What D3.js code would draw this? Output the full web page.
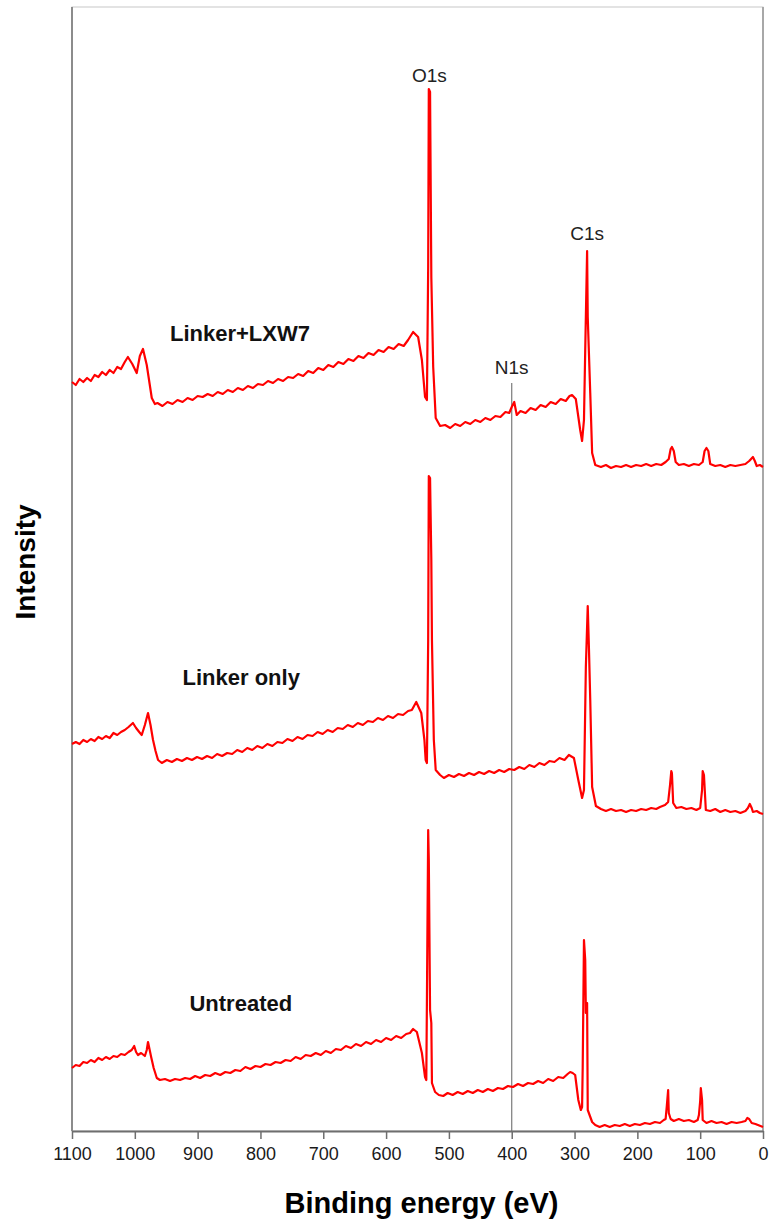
<!DOCTYPE html>
<html>
<head>
<meta charset="utf-8">
<script src="https://cdn.jsdelivr.net/npm/d3@7"></script>
<style>
  html, body { margin: 0; padding: 0; background: #fff; }
  svg { display: block; font-family: "Liberation Sans", Arial, sans-serif; }
</style>
</head>
<body>
<svg id="xps" width="773" height="1229"></svg>
<script>
// survey spectra, [binding energy (eV), intensity (a.u., offset per sample)]
const linkerLxw7 = [
  [1100,74.9],[1094,74.6],[1088,75.2],[1082,74.9],[1076,75.3],[1070,75.0],[1064,75.6],[1058,75.4],
  [1052,75.9],[1046,75.6],[1040,76.1],[1034,75.8],[1028,76.4],[1022,76.2],[1016,76.9],[1011,77.4],
  [1004,76.7],[997,75.8],[992,77.5],[987,78.2],[981,76.6],[973,73.3],[968,72.7],[964,72.8],
  [956,72.5],[948,72.9],[940,72.7],[932,73.1],[924,72.9],[916,73.3],[908,73.1],[900,73.5],
  [892,73.4],[884,73.7],[876,73.5],[868,73.9],[860,73.7],[852,74.1],[844,73.9],[836,74.3],
  [828,74.1],[820,74.5],[812,74.3],[804,74.7],[796,74.6],[788,75.0],[780,74.8],[772,75.2],
  [764,75.0],[756,75.4],[748,75.3],[740,75.7],[732,75.5],[724,76.0],[716,75.8],[708,76.3],
  [700,76.1],[692,76.6],[684,76.4],[676,76.9],[668,76.7],[660,77.2],[652,77.0],[644,77.5],
  [636,77.3],[628,77.8],[620,77.6],[612,78.1],[604,77.9],[596,78.4],[588,78.2],[580,78.7],
  [572,78.5],[565,79.1],[557,79.9],[549,79.4],[543,77.1],[538,73.4],[535,73.1],[533,86.4],
  [532,104.2],[530,103.9],[528,85.4],[525,76.4],[521,71.3],[514,70.5],[506,70.6],[498,70.3],
  [490,70.7],[482,70.5],[474,70.9],[466,70.7],[458,71.1],[450,70.9],[442,71.3],[434,71.1],
  [426,71.5],[418,71.4],[410,71.9],[404,71.8],[400,72.4],[396,72.9],[392,71.6],[386,72.0],
  [378,71.8],[370,72.3],[362,72.1],[354,72.6],[346,72.4],[338,72.9],[330,72.7],[322,73.2],
  [314,73.0],[308,73.5],[304,73.6],[298,73.2],[291,70.1],[288,69.0],[285,71.1],[283,78.1],
  [280,88.0],[279,81.4],[275,73.8],[272,67.8],[267,66.6],[258,66.4],[250,66.6],[242,66.3],
  [234,66.5],[226,66.4],[218,66.6],[210,66.4],[202,66.6],[194,66.5],[186,66.7],[178,66.5],
  [170,66.7],[162,66.6],[155,66.9],[150,67.2],[147,68.2],[145,68.4],[142,68.0],[139,66.9],
  [134,66.6],[126,66.7],[118,66.5],[110,66.7],[102,66.6],[96,66.9],[93,68.0],[90,68.3],
  [87,68.0],[84,66.7],[76,66.5],[68,66.6],[60,66.4],[52,66.6],[44,66.5],[36,66.6],
  [28,66.7],[22,67.0],[19,67.2],[16,67.4],[13,67.0],[10,66.5],[5,66.6],[0,66.4]
];

const linkerOnly = [
  [1100,38.7],[1094,38.9],[1088,38.7],[1082,39.1],[1076,38.9],[1070,39.2],[1064,39.0],[1058,39.4],
  [1052,39.2],[1046,39.5],[1040,39.3],[1034,39.8],[1028,39.6],[1022,39.9],[1016,40.1],[1010,40.4],
  [1003,40.8],[998,40.3],[993,39.9],[989,39.6],[984,40.6],[979,41.8],[975,40.6],[971,39.1],
  [967,38.0],[963,37.1],[957,36.8],[949,37.1],[941,36.9],[933,37.2],[925,37.0],[917,37.3],
  [909,37.1],[901,37.4],[893,37.2],[885,37.5],[877,37.3],[869,37.7],[861,37.5],[853,37.8],
  [845,37.7],[837,38.1],[829,37.9],[821,38.3],[813,38.1],[805,38.5],[797,38.3],[789,38.7],
  [781,38.5],[773,38.9],[765,38.8],[757,39.2],[749,39.0],[741,39.4],[733,39.2],[725,39.6],
  [717,39.5],[709,39.9],[701,39.7],[693,40.1],[685,39.9],[677,40.3],[669,40.2],[661,40.6],
  [653,40.4],[645,40.8],[637,40.6],[629,41.0],[621,40.9],[613,41.3],[605,41.1],[597,41.5],
  [589,41.3],[581,41.7],[573,41.6],[565,42.0],[559,42.1],[552,42.9],[544,41.8],[539,39.1],
  [537,37.1],[535,36.8],[533,49.1],[532,65.5],[530,65.3],[528,57.1],[527,49.1],[524,39.1],
  [521,36.1],[514,35.6],[508,35.3],[500,35.6],[492,35.4],[484,35.7],[476,35.5],[468,35.8],
  [460,35.6],[452,35.9],[444,35.7],[436,36.0],[428,35.8],[420,36.1],[412,35.9],[404,36.2],
  [396,36.1],[388,36.4],[380,36.2],[372,36.6],[364,36.4],[356,36.8],[348,36.6],[340,37.0],
  [332,36.9],[324,37.3],[316,37.1],[309,37.6],[301,37.3],[294,35.1],[288,33.3],[285,34.1],
  [282,46.4],[279,52.5],[277,48.1],[275,43.1],[272,34.4],[266,32.5],[258,32.2],[250,32.0],
  [242,32.2],[234,32.0],[226,32.1],[218,31.9],[210,32.1],[202,32.0],[194,32.2],[186,32.1],
  [178,32.3],[170,32.2],[164,32.4],[156,32.6],[151,32.9],[148,34.6],[146,36.0],[145,35.8],
  [143,32.8],[138,32.3],[130,32.4],[122,32.2],[114,32.3],[106,32.1],[100,32.3],[97,34.1],
  [96,36.0],[94,35.6],[91,32.1],[84,32.0],[76,32.2],[68,31.9],[60,32.1],[52,31.9],
  [44,32.0],[36,31.8],[28,32.0],[24,32.3],[21,32.7],[18,32.3],[16,31.9],[10,32.0],
  [5,31.8],[0,31.7]
];

const untreated = [
  [1100,6.3],[1094,6.6],[1088,6.5],[1082,6.9],[1076,6.8],[1070,7.1],[1064,6.9],[1058,7.3],
  [1052,7.1],[1046,7.4],[1040,7.2],[1034,7.5],[1028,7.4],[1022,7.7],[1016,7.6],[1010,7.9],
  [1005,8.1],[1001,8.5],[998,7.9],[995,7.6],[990,7.8],[984,7.5],[981,8.1],[979,8.9],
  [976,8.0],[974,7.4],[970,6.3],[965,5.3],[960,5.1],[952,5.2],[944,5.0],[936,5.2],
  [928,5.1],[920,5.3],[912,5.2],[904,5.5],[896,5.3],[888,5.6],[880,5.5],[872,5.8],
  [864,5.6],[856,5.9],[848,5.8],[840,6.1],[832,6.0],[824,6.4],[816,6.2],[808,6.5],
  [800,6.4],[792,6.7],[784,6.6],[776,6.9],[768,6.8],[760,7.1],[752,7.0],[744,7.4],
  [736,7.2],[728,7.6],[720,7.5],[712,7.8],[704,7.6],[696,8.0],[688,7.8],[680,8.2],
  [672,8.1],[664,8.5],[656,8.3],[648,8.7],[640,8.5],[632,8.9],[624,8.7],[616,9.1],
  [608,8.9],[600,9.3],[592,9.1],[584,9.5],[576,9.3],[568,9.7],[562,9.8],[557,10.2],
  [551,9.9],[543,7.8],[538,5.4],[536,5.1],[535,13.1],[533,30.1],[532,27.1],[530,12.1],
  [528,10.8],[527,4.8],[522,3.9],[516,3.6],[509,3.5],[502,3.8],[494,3.6],[486,3.9],
  [478,3.7],[470,4.0],[462,3.8],[454,4.1],[446,3.9],[438,4.2],[430,4.0],[422,4.3],
  [414,4.2],[406,4.5],[398,4.4],[390,4.7],[382,4.5],[374,4.8],[366,4.7],[358,5.0],
  [350,4.8],[342,5.2],[334,5.0],[326,5.4],[318,5.3],[311,5.7],[307,5.9],[303,5.8],
  [299,5.6],[294,3.1],[290,2.1],[288,2.4],[287,6.4],[285,19.1],[283,17.1],[282,11.8],
  [280,12.8],[279,2.1],[272,0.9],[267,0.6],[260,0.4],[252,0.6],[244,0.4],[236,0.6],
  [228,0.5],[220,0.7],[212,0.5],[204,0.7],[196,0.6],[188,0.8],[180,0.7],[172,0.9],
  [164,0.8],[158,1.1],[155,1.2],[153,2.6],[151,4.1],[150,1.8],[147,1.2],[142,1.0],
  [134,1.2],[126,1.0],[118,1.1],[110,0.9],[104,1.1],[102,1.6],[100,3.0],[99,4.3],
  [97,3.1],[96,1.1],[90,0.8],[82,1.0],[74,0.8],[66,0.9],[58,0.7],[50,0.9],
  [42,0.8],[34,0.9],[28,1.0],[25,1.3],[22,1.2],[18,0.8],[12,0.7],[8,0.6],
  [4,0.5],[0,0.4]
];

const sampleNames = ['Linker+LXW7', 'Linker only', 'Untreated'];
const sampleLabelPos = [[944, 79.0], [924, 44.6], [913, 12.0]]; // [eV, a.u.] of label start

// peak annotations
const peakNames = ['O1s', 'C1s', 'N1s'];
const peakPos = [[531, 104.9], [280, 89.1], [400, 75.7]];
const n1sLine = [400, 74.8];

const xTicks = [1100, 1000, 900, 800, 700, 600, 500, 400, 300, 200, 100, 0];

const W = 773, H = 1229;
const m = {top: 7, right: 10, bottom: 98, left: 72};

const svg = d3.select('#xps');

const x = d3.scaleLinear().domain([1100, 0]).range([m.left, W - m.right]);
const y = d3.scaleLinear().domain([0, 112.4]).range([H - m.bottom, m.top]);

// frame
svg.append('rect')
  .attr('x', m.left).attr('y', m.top)
  .attr('width', W - m.right - m.left).attr('height', H - m.bottom - m.top)
  .attr('fill', 'none').attr('stroke', '#c8c8c8').attr('stroke-width', 1);
svg.append('line')
  .attr('x1', m.left).attr('x2', m.left).attr('y1', m.top).attr('y2', H - m.bottom)
  .attr('stroke', '#8c8c8c').attr('stroke-width', 2);
svg.append('line')
  .attr('x1', W - m.right).attr('x2', W - m.right).attr('y1', m.top).attr('y2', H - m.bottom)
  .attr('stroke', '#a8a8a8').attr('stroke-width', 2);

// N1s marker line
svg.append('line')
  .attr('x1', x(n1sLine[0])).attr('x2', x(n1sLine[0]))
  .attr('y1', y(n1sLine[1])).attr('y2', y(0))
  .attr('stroke', '#7a7a7a').attr('stroke-width', 1.2);

// bottom axis
const xAxis = svg.append('g')
  .attr('transform', `translate(0,${H - m.bottom})`)
  .call(d3.axisBottom(x).tickValues(xTicks).tickSize(8).tickSizeOuter(0).tickFormat(d3.format('d')));
xAxis.select('.domain').attr('stroke', '#6e6e6e').attr('stroke-width', 2);
xAxis.selectAll('.tick line').attr('stroke', '#6e6e6e').attr('stroke-width', 1.5);
xAxis.selectAll('.tick text')
  .attr('y', 16)
  .attr('fill', '#1a1a1a')
  .style('font-size', '18px')
  .style('font-family', '"Liberation Sans", Arial, sans-serif');

// spectra
const lineGen = d3.line()
  .x(d => x(d[0]))
  .y(d => y(d[1]));

[linkerLxw7, linkerOnly, untreated].forEach(s => {
  svg.append('path')
    .datum(s)
    .attr('d', lineGen)
    .attr('fill', 'none')
    .attr('stroke', '#ff0000')
    .attr('stroke-width', 2.2)
    .attr('stroke-linejoin', 'round');
});

// sample labels
svg.selectAll('text.sample')
  .data(sampleNames)
  .enter()
  .append('text')
  .attr('class', 'sample')
  .attr('x', (d, i) => x(sampleLabelPos[i][0]))
  .attr('y', (d, i) => y(sampleLabelPos[i][1]))
  .attr('font-size', 22)
  .attr('font-weight', 'bold')
  .attr('fill', '#111')
  .text(d => d);

// peak labels
svg.selectAll('text.peak')
  .data(peakNames)
  .enter()
  .append('text')
  .attr('class', 'peak')
  .attr('x', (d, i) => x(peakPos[i][0]))
  .attr('y', (d, i) => y(peakPos[i][1]))
  .attr('text-anchor', 'middle')
  .attr('font-size', 19)
  .attr('fill', '#222')
  .text(d => d);

// axis titles
svg.append('text')
  .attr('x', (m.left + W - m.right) / 2 + 4)
  .attr('y', 1213)
  .attr('text-anchor', 'middle')
  .attr('font-size', 29)
  .attr('font-weight', 'bold')
  .attr('fill', '#000')
  .text('Binding energy (eV)');

svg.append('text')
  .attr('transform', 'translate(35,562) rotate(-90)')
  .attr('text-anchor', 'middle')
  .attr('font-size', 28)
  .attr('font-weight', 'bold')
  .attr('fill', '#000')
  .text('Intensity');
</script>
</body>
</html>
